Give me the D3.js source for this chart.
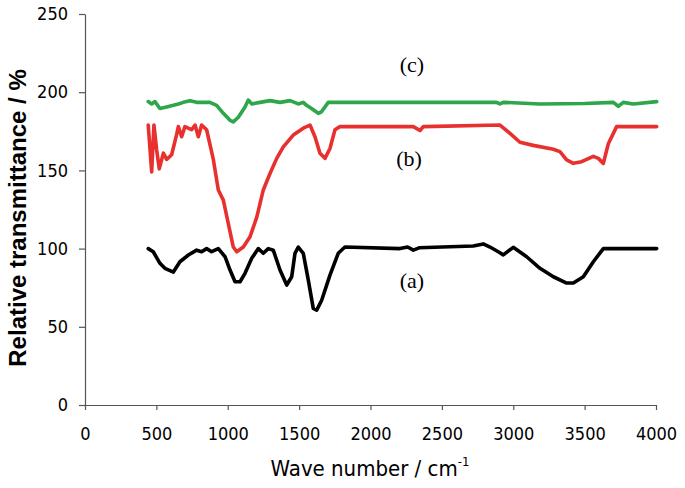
<!DOCTYPE html>
<html><head><meta charset="utf-8">
<script src="https://cdn.jsdelivr.net/npm/d3@7"></script>
<style>body{margin:0;background:#fff}svg{display:block}</style>
</head><body>
<script>
const xTicks = [0,500,1000,1500,2000,2500,3000,3500,4000];
const yTicks = [0,50,100,150,200,250];
const labels = ["(a)","(b)","(c)"];
const labelPos = [[2290,74.5],[2270,152.5],[2290,213]];
const curveA = [[443,100],[478,98],[525,90.6],[560,87.4],[619,85],[665,91.6],[724,95.9],[782,99],[817,98],[852,100],[887,98],[934,100],[981,94.8],[1016,86.3],[1051,78.8],[1086,78.8],[1121,84.2],[1168,93.8],[1214,100],[1249,97],[1284,100],[1319,99],[1366,86.3],[1413,76.7],[1448,82],[1471,97],[1494,101],[1529,97],[1564,80],[1599,61.8],[1623,60.7],[1658,67],[1716,83],[1774,97],[1821,101],[2207,100],[2260,101],[2300,99],[2340,100.5],[2720,101.7],[2790,103],[2837,101],[2895,98],[2930,96],[3000,100.8],[3094,94.8],[3187,87.4],[3281,82],[3374,78],[3421,78],[3491,82],[3561,91.6],[3631,100],[4005,100]];
const curveB = [[443,179],[467,149],[483,179],[502,163],[520,151],[549,161],[572,157],[607,160],[642,173],[654,178],[677,171.5],[700,178],[747,176],[771,179],[794,171.5],[817,179],[852,176],[899,157],[934,137.5],[969,131],[1004,116],[1039,101],[1063,98],[1109,101],[1156,107.6],[1203,120],[1249,137.5],[1296,148],[1343,157.7],[1389,165],[1459,172.6],[1529,177],[1576,179],[1611,171.5],[1646,161],[1681,157.7],[1716,164],[1751,176],[1786,178],[2300,178],[2347,175.5],[2370,178],[2907,179],[2977,173.7],[3047,168],[3140,166],[3281,163.5],[3327,162],[3374,156.7],[3421,154.5],[3479,155.6],[3561,159],[3596,157.7],[3631,154.5],[3666,167],[3724,178],[4005,178]];
const curveC = [[443,194],[467,192.5],[490,194],[525,189.6],[572,190.6],[619,191.6],[654,192.5],[689,193.5],[735,194.6],[782,193.5],[840,193.5],[875,193.5],[922,191.6],[969,186.5],[1016,182],[1039,181],[1074,184],[1121,190.6],[1144,195],[1168,192.5],[1226,193.5],[1296,194.6],[1366,193.5],[1436,194.6],[1494,192.5],[1529,193.5],[1552,191.6],[1587,189.6],[1634,186.5],[1657,187.5],[1704,193.5],[2883,193.5],[2907,192.5],[2930,193.5],[3187,192.5],[3500,192.8],[3701,193.5],[3736,191],[3771,193.5],[3841,192.5],[4005,194]];
const colors = ["#000000","#e8302f","#2ea64a"];

const W=685,H=488, m={l:85,t:14,r:29,b:83};
const svg=d3.select("body").append("svg").attr("width",W).attr("height",H);
const x=d3.scaleLinear().domain([0,4000]).range([m.l,W-m.r]);
const y=d3.scaleLinear().domain([0,250]).range([H-m.b,m.t]);
const tickFont='"DejaVu Sans Condensed","Liberation Sans Narrow",sans-serif';

const xa=svg.append("g").attr("transform",`translate(0,${H-m.b})`)
  .call(d3.axisBottom(x).tickValues(xTicks).tickFormat(d3.format("d")).tickSize(5).tickSizeOuter(0).tickPadding(17));
const ya=svg.append("g").attr("transform",`translate(${m.l},0)`)
  .call(d3.axisLeft(y).tickValues(yTicks).tickFormat(d3.format("d")).tickSize(6).tickSizeOuter(0).tickPadding(11));
[xa,ya].forEach(a=>{
  a.selectAll("path,line").attr("stroke","#555").attr("stroke-width",1.2);
  a.selectAll("text").attr("font-family",tickFont).attr("font-size",18).attr("fill","#000");
});

const line=d3.line().x(d=>x(d[0])).y(d=>y(d[1])).curve(d3.curveLinear);
[curveA,curveB,curveC].forEach((c,i)=>{
  svg.append("path").datum(c).attr("d",line).attr("fill","none")
    .attr("stroke",colors[i]).attr("stroke-width",3.6).attr("stroke-linejoin","round").attr("stroke-linecap","round");
});

labels.forEach((t,i)=>{
  svg.append("text").attr("x",x(labelPos[i][0])).attr("y",y(labelPos[i][1]))
    .attr("text-anchor","middle").attr("font-family",'"Liberation Serif","Times New Roman",serif')
    .attr("font-size",22).text(t);
});

svg.append("text").attr("transform",`translate(26,218) rotate(-90)`).attr("text-anchor","middle")
  .attr("font-family",'"Liberation Sans",Arial,sans-serif').attr("font-size",24).attr("font-weight","bold")
  .text("Relative transmittance / %");

const xt=svg.append("text").attr("x",370).attr("y",476).attr("text-anchor","middle")
  .attr("font-family",tickFont).attr("font-size",22);
xt.append("tspan").text("Wave number / cm");
xt.append("tspan").attr("font-size",13).attr("dy",-10).text("-1");
</script>
</body></html>
